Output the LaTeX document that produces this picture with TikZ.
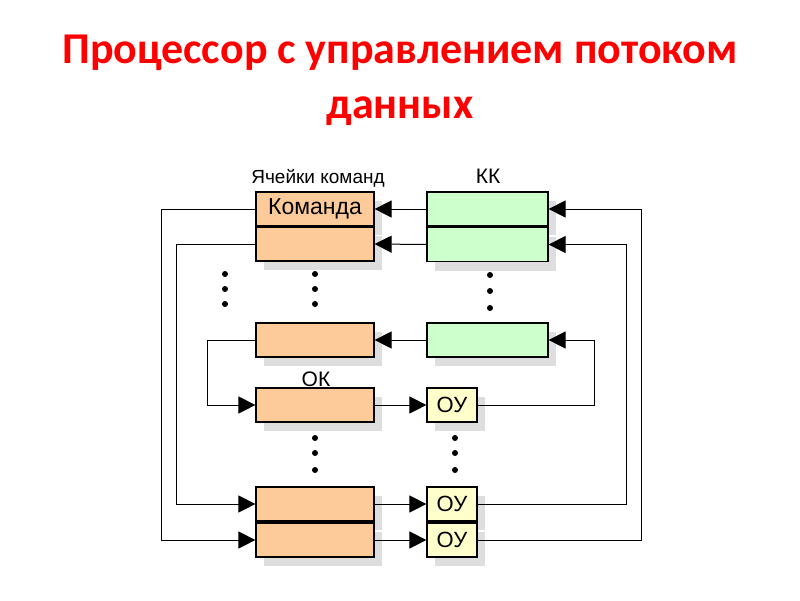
\documentclass[tikz,border=0pt]{standalone}
\usepackage{fontspec}
\setmainfont{Liberation Sans}
\newfontfamily\titlefont{Carlito}
\usetikzlibrary{arrows.meta,shadows}
\definecolor{cellorange}{HTML}{FCCB99}
\definecolor{cellgreen}{HTML}{CCFFCC}
\definecolor{cellyellow}{HTML}{FFFFCC}
\definecolor{titlered}{HTML}{FF0000}
\begin{document}
\begin{tikzpicture}[x=1pt, y=-1pt,
  cell/.style={draw, line width=1.2pt, inner sep=0pt, minimum height=34pt,
    general shadow={fill=black!13, shadow xshift=8pt, shadow yshift=-9pt}},
  cmd/.style={cell, fill=cellorange, minimum width=118pt},
  kk/.style={cell, fill=cellgreen, minimum width=121pt},
  ou/.style={cell, fill=cellyellow, minimum width=50pt, font=\fontsize{22}{22}\selectfont},
  link/.style={line width=1pt, -{Triangle[length=17pt,width=17pt]}},
  dot/.style={fill=black}]
\useasboundingbox (0,0) rectangle (800,600);
% title
\node[anchor=base, text=titlered, font=\titlefont\bfseries\fontsize{44}{44}\selectfont] (title1) at (400,63) {Процессор с управлением потоком};
\node[anchor=base, text=titlered, font=\titlefont\bfseries\fontsize{44}{44}\selectfont] (title2) at (400,118) {данных};
% command cells
\node[cmd, font=\fontsize{23}{23}\selectfont] (c1) at (315,209) {Команда};
\node[cmd] (c2) at (315,244) {};
\node[cmd] (c3) at (315,340) {};
\node[cmd] (c4) at (315,405) {};
\node[cmd] (c5) at (315,504) {};
\node[cmd] (c6) at (315,540) {};
% KK cells
\node[kk] (k1) at (487.5,209) {};
\node[kk] (k2) at (487.5,244.5) {};
\node[kk] (k3) at (487.5,340) {};
% operating units
\node[ou] (u1) at (452,405) {ОУ};
\node[ou] (u2) at (452,504) {ОУ};
\node[ou] (u3) at (452,540) {ОУ};
% labels
\node[anchor=base, font=\fontsize{19}{19}\selectfont] (lcells) at (318,183) {Ячейки команд};
\node[anchor=base, font=\fontsize{21}{21}\selectfont] (lkk) at (488,183) {КК};
\node[anchor=base, font=\fontsize{21}{21}\selectfont] (lok) at (316,386) {ОК};
% dots
\foreach \y in {274,289,304} {
  \fill[dot] (225,\y) circle (3pt);
  \fill[dot] (315,\y) circle (3pt);
}
\foreach \y in {275,291,308} \fill[dot] (490,\y) circle (3pt);
\foreach \y in {438,453,470} {
  \fill[dot] (315,\y) circle (3pt);
  \fill[dot] (455,\y) circle (3pt);
}
% connections
\draw[link] (k1.west) -- (c1.east);
\draw[link] (k2.west) -- (c2.east);
\draw[link] (k3.west) -- (c3.east);
\draw[link] (c1.west) -- ++(-94,0) |- (c6.west);
\draw[link] (c2.west) -- ++(-79,0) |- (c5.west);
\draw[link] (c3.west) -- ++(-48,0) |- (c4.west);
\draw[link] (c4.east) -- (u1.west);
\draw[link] (c5.east) -- (u2.west);
\draw[link] (c6.east) -- (u3.west);
\draw[link] (u1.east) -- ++(117,0) |- (k3.east);
\draw[link] (u2.east) -- ++(149,0) |- (k2.east);
\draw[link] (u3.east) -- ++(164,0) |- (k1.east);
\end{tikzpicture}
\end{document}
